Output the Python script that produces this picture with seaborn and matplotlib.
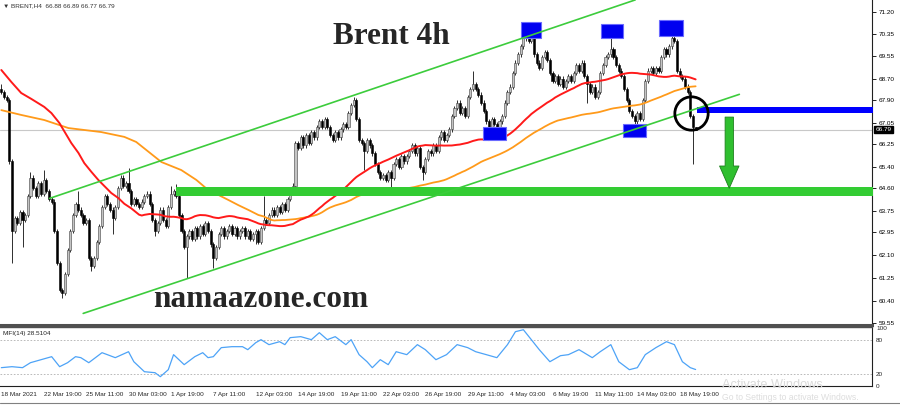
import numpy as np
import pandas as pd
import matplotlib
matplotlib.use("Agg")
import matplotlib.pyplot as plt
from matplotlib.patches import Rectangle
from matplotlib.lines import Line2D
import seaborn as sns

# ---- values (BRENT H4, 18 Mar - 19 May 2021) ----
closes = [
    68.2, 68.0, 67.9, 65.6, 63.0, 63.5, 63.3, 63.7, 63.4, 63.6,
    64.3, 65.0, 64.6, 64.3, 64.8, 64.4, 64.9, 64.5, 64.2, 64.1,
    63.0, 61.8, 60.8, 60.7, 61.4, 62.3, 63.0, 63.6, 64.0, 63.8,
    63.6, 63.3, 63.4, 62.0, 61.7, 62.0, 62.6, 63.2, 63.9, 64.3,
    64.0, 63.8, 63.5, 63.9, 64.6, 65.0, 64.7, 64.8, 64.5, 64.0,
    64.2, 64.0, 63.9, 64.1, 64.3, 64.4, 64.0, 63.4, 63.0, 63.3,
    63.8, 63.4, 63.2, 63.9, 64.4, 64.5, 64.3, 63.6, 63.0, 62.4,
    62.8, 63.0, 62.7, 63.1, 62.8, 63.2, 62.9, 63.3, 63.0, 62.5,
    62.0, 62.4, 62.9, 63.1, 62.8, 63.0, 63.2, 62.9, 63.1, 62.8,
    63.0, 63.1, 62.8, 63.0, 62.7, 62.9, 63.0, 62.6, 63.1, 63.4,
    63.3, 63.6, 63.8, 63.6, 63.9, 63.7, 64.0, 63.8, 64.2, 64.5,
    64.7, 66.3, 66.1, 66.5, 66.2, 66.6, 66.3, 66.7, 66.5, 66.9,
    67.1, 66.9, 67.2, 66.9, 66.6, 66.4, 66.7, 66.5, 66.8, 67.0,
    66.9, 67.4, 67.7, 67.9, 67.2, 66.4, 66.3, 66.0, 66.4, 66.2,
    65.9, 65.5, 65.2, 65.0, 65.1, 64.9, 65.2, 65.0, 65.5, 65.7,
    65.4, 65.8, 65.6, 65.8, 66.0, 66.2, 65.9, 66.1, 65.4, 65.2,
    65.7, 66.0, 65.9, 66.2, 66.0, 66.5, 66.7, 66.4, 66.6, 66.8,
    67.3, 67.6, 67.8, 67.4, 67.6, 67.3, 68.0, 68.3, 68.5, 68.3,
    68.1, 67.8, 67.5, 67.1, 66.9, 67.2, 67.0, 66.9, 67.1, 67.3,
    67.8, 68.2, 68.4, 68.9, 69.3, 69.6, 69.9, 70.2, 70.3, 70.1,
    70.2, 69.6, 69.3, 69.1, 69.5, 69.7, 69.4, 68.9, 68.6, 68.8,
    68.5, 68.7, 68.4, 68.6, 68.8, 68.6, 68.9, 69.2, 69.0, 69.3,
    68.8, 68.5, 68.2, 68.4, 68.0, 68.2, 68.9, 69.2, 69.5, 69.6,
    69.8, 69.5, 69.2, 69.0, 68.8, 68.3, 67.9, 67.5, 67.3, 67.1,
    67.4, 67.2, 67.9, 68.6, 69.0, 69.1, 68.9, 69.1, 69.0, 69.5,
    69.8, 69.6, 69.9, 70.2, 70.1, 69.0, 68.8, 68.7, 68.4, 68.2,
    67.3, 66.88, 66.79,
]
first_open = 68.3
last_open = 66.88
# long wicks that stand out (bar index -> price)
wick_highs = {0: 68.5, 11: 65.2, 16: 65.3, 29: 64.5, 48: 65.35, 64: 64.7, 66: 64.75,
              99: 64.3, 133: 68.0, 178: 69.0, 198: 70.5, 230: 70.2, 254: 70.4, 262: 66.89}
wick_lows = {4: 61.8, 8: 62.4, 23: 60.5, 34: 61.5, 42: 62.9, 58: 62.8, 70: 61.25,
             80: 61.6, 96: 62.5, 137: 65.3, 147: 64.6, 159: 64.9, 187: 66.7,
             221: 67.8, 240: 66.9, 261: 65.5, 262: 66.77}
last_price = 66.79

# the two moving averages: SMA(50) red, SMA(100) orange.
red_period = 50
red_head_bars = [0, 3.8, 7.5, 11.3, 16.2, 18.9, 21.9, 24.2, 26.4, 29.1, 31.3, 34.0,
                 36.6, 39.2, 41.5, 44.2, 46.4]
red_head_vals = [69.02, 68.57, 68.16, 67.94, 67.64, 67.41, 67.04, 66.66, 66.29, 65.92,
                 65.54, 65.21, 64.91, 64.65, 64.42, 64.23, 64.02]
orange_period = 100
orange_head_bars = [0, 7.5, 16.2, 25.3, 37.7, 46.4, 50.9, 54.7, 60.4, 67.9, 73.6, 78.1,
                    81.9, 85.7, 89.4, 93.2, 97.0]
orange_head_vals = [67.52, 67.34, 67.15, 66.85, 66.70, 66.52, 66.33, 66.03, 65.58, 65.28,
                    64.91, 64.53, 64.35, 64.16, 63.97, 63.79, 63.60]

mfi_bars = [0, 4, 8, 11, 15, 19, 22, 25, 28, 30, 33, 38, 40, 43, 48, 50, 54, 58, 60, 63,
            65, 69, 73, 76, 78, 80, 83, 87, 91, 93, 96, 98, 101, 105, 107, 109, 113,
            117, 120, 123, 126, 130, 132, 135, 138, 140, 143, 146, 149, 153, 157, 160,
            164, 168, 172, 176, 179, 183, 187, 191, 194, 197, 200, 203, 207, 211, 214,
            218, 223, 226, 230, 233, 237, 240, 243, 247, 251, 254, 257, 260, 262]
mfi_vals = [31.7, 33.4, 31.7, 40.3, 45.5, 50.7, 33.4, 40.3, 50.7, 49.0, 40.3, 57.6, 54.2,
            49.0, 59.3, 42.0, 24.7, 23.0, 16.1, 28.2, 54.2, 36.9, 50.7, 57.6, 49.0, 50.7,
            66.3, 68.0, 68.0, 62.8, 74.9, 80.1, 71.5, 76.6, 71.5, 83.6, 85.3,
            80.1, 92.2, 80.1, 85.3, 71.5, 80.1, 54.2, 42.0, 31.7, 45.5, 36.9, 59.3, 54.2,
            71.5, 62.8, 45.5, 54.2, 71.5, 66.3, 59.3, 54.2, 49.0, 71.5, 93.9, 97.3, 80.1,
            62.8, 42.0, 52.4, 54.2, 62.8, 49.0, 59.3, 71.5, 42.0, 28.2, 31.7, 54.2, 66.3,
            76.6, 71.5, 42.0, 31.7, 28.5]

price_ticks = [71.20, 70.35, 69.55, 68.70, 67.90, 67.05, 66.25, 65.40, 64.60,
               63.75, 62.95, 62.10, 61.25, 60.40, 59.55]
mfi_ticks = [0, 20, 80, 100]
date_tick_bars = [0, 16, 32, 48, 64, 80, 96, 112, 128, 144, 160, 176, 192, 208, 224, 240, 256]
date_tick_labels = ["18 Mar 2021", "22 Mar 19:00", "25 Mar 11:00", "30 Mar 03:00",
                    "1 Apr 19:00", "7 Apr 11:00", "12 Apr 03:00", "14 Apr 19:00",
                    "19 Apr 11:00", "22 Apr 03:00", "26 Apr 19:00", "29 Apr 11:00",
                    "4 May 03:00", "6 May 19:00", "11 May 11:00", "14 May 03:00",
                    "18 May 19:00"]

# drawn objects (bar, price)
channel_upper = ([18.2, 239.2], [64.22, 71.64])
channel_lower = ([30.9, 278.5], [59.92, 68.11])
support_zone = (66, 64.31, 64.64)          # start bar, low, high
blue_level = (262.6, 67.43, 67.63)
blue_boxes = [(196.2, 203.8, 70.22, 70.81), (226.4, 234.7, 70.22, 70.74),
              (248.3, 257.4, 70.29, 70.89), (181.9, 190.6, 66.40, 66.89),
              (234.7, 243.4, 66.52, 67.00)]
circle_at = (260.4, 67.41)
arrow_at = (274.7, 67.26, 64.60)

# ---- figure ----
sns.set_style("white")
plt.rcParams["font.family"] = ["Liberation Sans", "DejaVu Sans"]

fig = plt.figure(figsize=(9, 4.05), dpi=100)
ax = fig.add_axes([0, 80 / 405, 872 / 900, 325 / 405])
ax_mfi = fig.add_axes([0, 19 / 405, 872 / 900, 59 / 405])
x_end = 872 / 2.65 - 0.5

# candles
c = np.array(closes)
bars = np.arange(len(c))
opens = np.r_[first_open, c[:-1]]
opens[-1] = last_open
hi = np.maximum(opens, c) + 0.08
lo = np.minimum(opens, c) - 0.08
for b, v in wick_highs.items():
    hi[b] = v
for b, v in wick_lows.items():
    lo[b] = v
body = c - opens
body = np.where(np.abs(body) < 0.03, 0.03, body)
up = c >= opens

ax.axhline(last_price, color="#c8c8c8", lw=0.8, zorder=1)
ax.vlines(bars, lo, hi, color="#2e2e2e", lw=0.7, zorder=2)
ax.bar(bars[up], body[up], bottom=opens[up], width=0.8, color="#c4c4c4",
       edgecolor="#404040", linewidth=0.4, zorder=3)
ax.bar(bars[~up], body[~up], bottom=opens[~up], width=0.8, color="black",
       edgecolor="black", linewidth=0.4, zorder=3)

# moving averages
close_s = pd.Series(c, index=bars)
red_tail = close_s.rolling(red_period).mean().dropna()
orange_tail = close_s.rolling(orange_period).mean().dropna()
red_df = pd.DataFrame({"bar": list(red_head_bars) + list(red_tail.index),
                       "price": list(red_head_vals) + list(red_tail.values)})
orange_df = pd.DataFrame({"bar": list(orange_head_bars) + list(orange_tail.index),
                          "price": list(orange_head_vals) + list(orange_tail.values)})
sns.lineplot(data=orange_df, x="bar", y="price", ax=ax, color="#ff9a1a", lw=1.3, zorder=4)
sns.lineplot(data=red_df, x="bar", y="price", ax=ax, color="#ff1a1a", lw=1.4, zorder=4)

# zones, boxes, channel
ax.fill_between([support_zone[0], x_end + 5], support_zone[1], support_zone[2],
                color="#33cc33", lw=0, zorder=5)
ax.fill_between([blue_level[0], x_end + 5], blue_level[1], blue_level[2],
                color="#0000ff", lw=0, zorder=5)
for x0, x1, y0, y1 in blue_boxes:
    ax.add_patch(Rectangle((x0, y0), x1 - x0, y1 - y0, fc="#0000f0", ec="#6a6aff",
                           lw=0.8, zorder=6))
ax.plot(*channel_upper, color="#3ccc3c", lw=1.2, zorder=7)
ax.plot(*channel_lower, color="#3ccc3c", lw=1.2, zorder=7)

ax.plot([circle_at[0]], [circle_at[1]], marker="o", ms=24, mfc="none", mec="black",
        mew=2, zorder=8)
ax.annotate("", xy=(arrow_at[0], arrow_at[2]), xytext=(arrow_at[0], arrow_at[1]),
            arrowprops=dict(arrowstyle="simple,head_width=1.4,head_length=1.6,tail_width=0.6",
                            fc="#2fbf2f", ec="#1d7f1d", lw=0.6, mutation_scale=10,
                            shrinkA=0, shrinkB=0), zorder=8)

ax.set_xlim(-0.5, x_end)
ax.set_ylim(59.487, 71.637)
ax.set_xticks([])
ax.yaxis.tick_right()
ax.set_yticks(price_ticks)
ax.set_yticklabels([f"{v:.2f}" for v in price_ticks])
ax.tick_params(axis="y", length=3, width=0.6, labelsize=4.6, pad=1.5, colors="black")
ax.set_xlabel("")
ax.set_ylabel("")
for side in ["left", "top"]:
    ax.spines[side].set_visible(False)
ax.spines["right"].set_color("#202020")
ax.spines["right"].set_linewidth(0.8)
ax.spines["bottom"].set_color("#505050")
ax.spines["bottom"].set_linewidth(2.2)

ax.annotate(f"{last_price:.2f}", xy=(1, last_price), xycoords=("axes fraction", "data"),
            xytext=(2.5, 0), textcoords="offset points", va="center", ha="left",
            fontsize=4.6, color="white",
            bbox=dict(boxstyle="square,pad=0.2", fc="black", ec="black"),
            annotation_clip=False, zorder=10)

# MFI panel
ax_mfi.axhline(80, color="#b0b0b0", lw=0.6, ls=(0, (2, 2)))
ax_mfi.axhline(20, color="#b0b0b0", lw=0.6, ls=(0, (2, 2)))
sns.lineplot(x=mfi_bars, y=mfi_vals, ax=ax_mfi, color="#4da3f7", lw=0.9)
ax_mfi.set_xlim(-0.5, x_end)
ax_mfi.set_ylim(0, 102)
ax_mfi.yaxis.tick_right()
ax_mfi.set_yticks(mfi_ticks)
ax_mfi.set_yticklabels([str(v) for v in mfi_ticks])
ax_mfi.tick_params(axis="y", length=0, labelsize=4.6, pad=3)
ax_mfi.set_xticks(date_tick_bars)
ax_mfi.set_xticklabels(date_tick_labels)
ax_mfi.tick_params(axis="x", length=3, width=0.6, labelsize=4.6, pad=1.5)
for lbl in ax_mfi.get_xticklabels():
    lbl.set_ha("left")
ax_mfi.set_xlabel("")
ax_mfi.set_ylabel("")
ax_mfi.spines["left"].set_visible(False)
ax_mfi.spines["top"].set_color("#505050")
ax_mfi.spines["top"].set_linewidth(1.0)
ax_mfi.spines["right"].set_color("#202020")
ax_mfi.spines["right"].set_linewidth(0.8)
ax_mfi.spines["bottom"].set_color("#202020")
ax_mfi.spines["bottom"].set_linewidth(0.8)
ax_mfi.text(0.003, 0.93, "MFI(14) 28.5104", transform=ax_mfi.transAxes, va="top",
            ha="left", fontsize=4.6, color="#222222")

# texts on the chart
fig.text(3 / 900, 1 - 5.5 / 405, "\u25bc BRENT,H4  66.88 66.89 66.77 66.79", va="center",
         ha="left", fontsize=4.6, color="#333333")
fig.text(391.5 / 900, 1 - 44 / 405, "Brent 4h", ha="center", va="baseline",
         fontsize=22.5, fontweight="bold", family=["Liberation Serif", "DejaVu Serif"])
fig.text(260.5 / 900, 1 - 307 / 405, "namaazone.com", ha="center", va="baseline",
         fontsize=22.5, fontweight="bold", family=["Liberation Serif", "DejaVu Serif"])

# windows watermark and tab strip
fig.text(722 / 900, 1 - 385 / 405, "Activate Windows", va="center", ha="left",
         fontsize=9.2, color="#dadada")
fig.text(722 / 900, 1 - 398 / 405, "Go to Settings to activate Windows.", va="center",
         ha="left", fontsize=6.2, color="#dddddd")
fig.add_artist(Line2D([0, 1], [2 / 405, 2 / 405], color="#808080", lw=0.8))

fig.savefig("out.png", dpi=100)
